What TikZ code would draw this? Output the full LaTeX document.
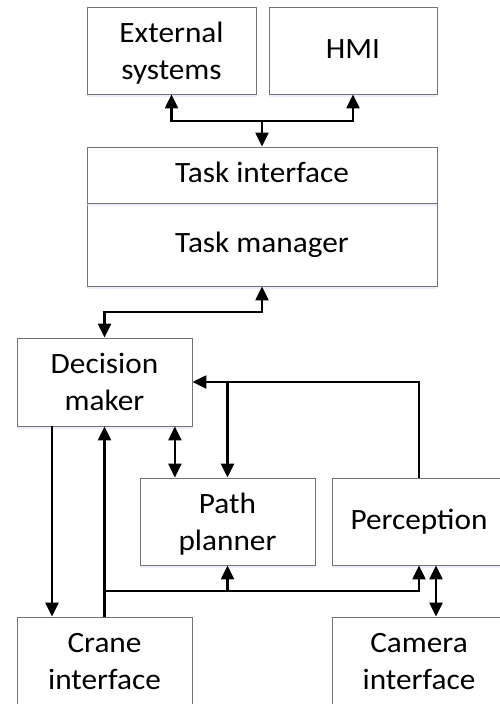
\documentclass[tikz,border=0pt]{standalone}
\usepackage{fontspec}
\setmainfont{Carlito}[FakeStretch=1.06]
\usetikzlibrary{arrows.meta,shadows}
\tikzset{
	blk/.style={draw=black!55, line width=0.8pt, fill=white, align=center, inner sep=0pt,
		drop shadow={shadow xshift=0pt, shadow yshift=-2.5pt, fill=blue!12, opacity=0.6}},
	oneline/.style={blk, text height=20pt, text depth=5pt},
	twoline/.style={blk, text height=63pt, text depth=6pt},
	lnk/.style={line width=2.2pt, draw=black}
}
\begin{document}
\begin{tikzpicture}[x=1pt, y=-1pt, font=\fontsize{29.5}{37}\selectfont, line join=miter, >={Triangle[length=14pt,width=13pt]}]
	\useasboundingbox (0,0) rectangle (500,704);
	\clip (0,0) rectangle (500,704);
	\node[twoline, minimum width=169pt, minimum height=87pt] (ext) at (171.5,50.5) {External\\systems};
	\node[oneline, minimum width=168pt, minimum height=87pt] (hmi) at (353,50.5) {HMI};
	\node[oneline, minimum width=350pt, minimum height=83pt] (tm) at (262,244.5) {Task manager};
	\node[oneline, minimum width=350pt, minimum height=56pt] (ti) at (262,175) {Task interface};
	\node[twoline, minimum width=175pt, minimum height=88pt] (dm) at (104.5,382) {Decision\\maker};
	\node[twoline, minimum width=175pt, minimum height=87pt] (pp) at (227.5,521.5) {Path\\planner};
	\node[oneline, minimum width=174pt, minimum height=87pt] (pc) at (419,521.5) {Perception};
	\node[twoline, minimum width=175pt, minimum height=88pt] (cr) at (104.5,661) {Crane\\interface};
	\node[twoline, minimum width=174pt, minimum height=88pt] (cam) at (419,661) {Camera\\interface};
	\coordinate (j1) at (262,121);
	\coordinate (j2) at (104.5,312);
	\coordinate (j3) at (104.5,591);
	\draw[lnk,<->] (ext.south) |- (j1) -| (hmi.south);
	\draw[lnk,->] (j1) -- (ti.north);
	\draw[lnk,<->] (tm.south) |- (j2) -- (dm.north);
	\draw[lnk,->] (pc.north) |- (dm.east);
	\draw[lnk,->] (pp.north |- dm.east) -- (pp.north);
	\draw[lnk,<->] ([xshift=-17.5pt]dm.south east) -- ([xshift=-17.5pt]dm.south east |- pp.north);
	\draw[lnk,->] ([xshift=-52.5pt]dm.south) -- ([xshift=-52.5pt]cr.north);
	\draw[lnk,->] (cr.north) -- (dm.south);
	\draw[lnk,->] (j3) -| (pc.south);
	\draw[lnk,->] (j3 -| pp.south) -- (pp.south);
	\draw[lnk,<->] ([xshift=17pt]pc.south) -- ([xshift=17pt]cam.north);
\end{tikzpicture}
\end{document}
